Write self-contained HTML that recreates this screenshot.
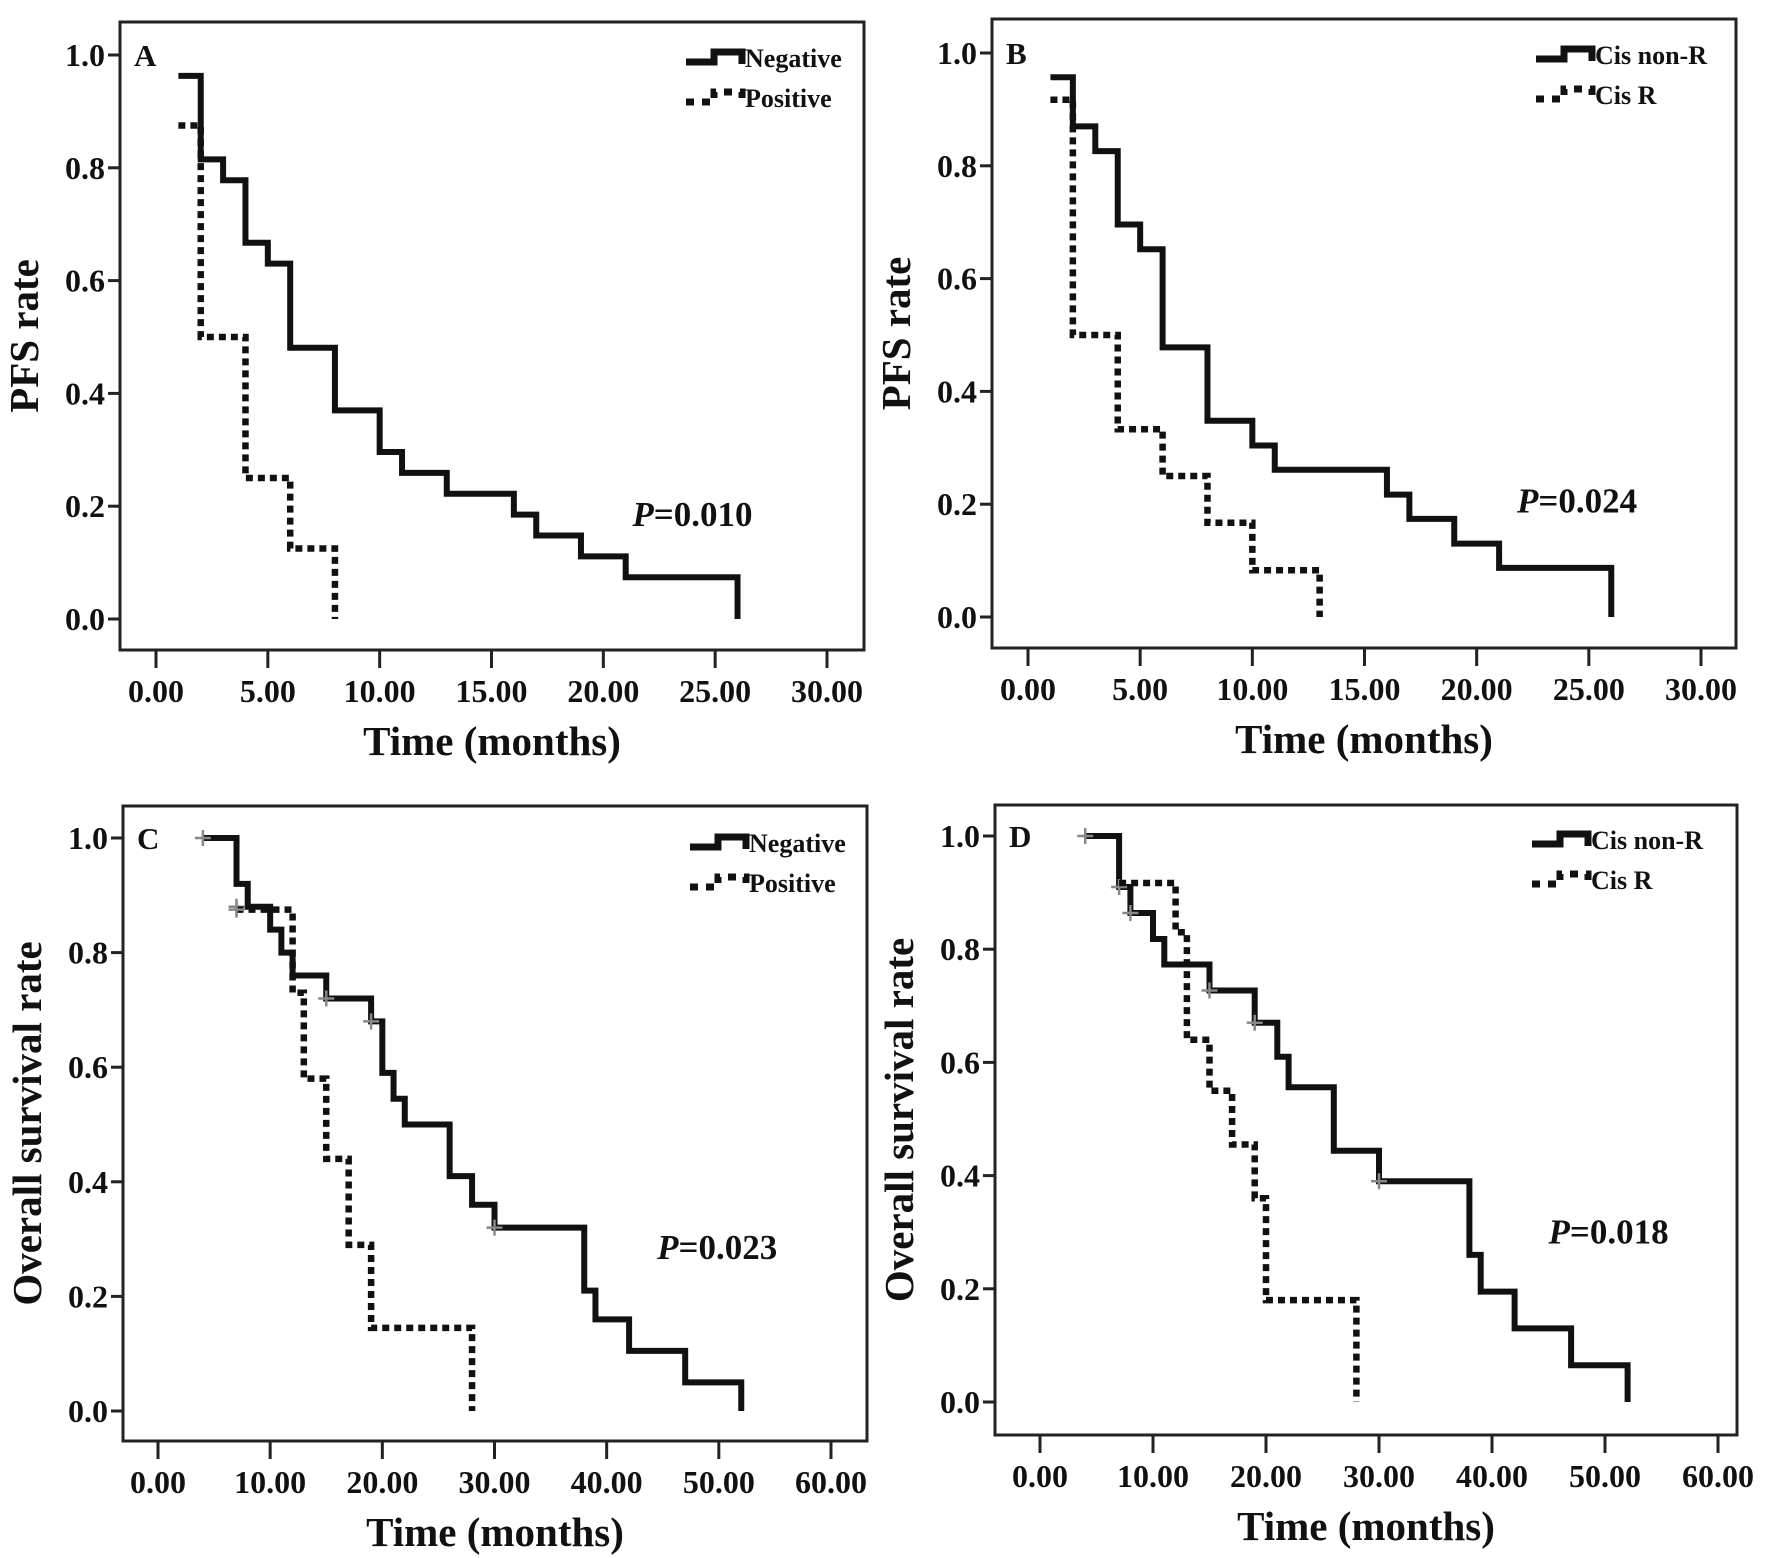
<!DOCTYPE html>
<html><head><meta charset="utf-8"><style>
html,body{margin:0;padding:0;background:#fff}
svg{display:block}
text{font-family:"Liberation Serif",serif;font-weight:bold;fill:#111}
</style></head><body>
<svg id="fig" width="1772" height="1558" viewBox="0 0 1772 1558" xmlns="http://www.w3.org/2000/svg"></svg>
<script>
// ---- data ----
const yTicks = [0.0, 0.2, 0.4, 0.6, 0.8, 1.0];
const xTicksPFS = [0, 5, 10, 15, 20, 25, 30];
const xTicksOS = [0, 10, 20, 30, 40, 50, 60];

const aNegT = [1, 2, 3, 4, 5, 6, 8, 10, 11, 13, 16, 17, 19, 21, 26];
const aNegV = [0.963, 0.815, 0.778, 0.667, 0.63, 0.481, 0.37, 0.296, 0.259, 0.222, 0.185, 0.148, 0.111, 0.074, 0];
const aPosT = [1, 2, 4, 6, 8];
const aPosV = [0.875, 0.5, 0.25, 0.125, 0];

const bNonT = [1, 2, 3, 4, 5, 6, 8, 10, 11, 16, 17, 19, 21, 26];
const bNonV = [0.957, 0.87, 0.826, 0.696, 0.652, 0.478, 0.348, 0.304, 0.261, 0.217, 0.174, 0.13, 0.087, 0];
const bRT = [1, 2, 4, 6, 8, 10, 13];
const bRV = [0.917, 0.5, 0.333, 0.25, 0.167, 0.083, 0];

const cNegT = [4, 7, 8, 10, 11, 12, 15, 19, 20, 21, 22, 26, 28, 30, 38, 39, 42, 47, 52];
const cNegV = [1.0, 0.92, 0.88, 0.84, 0.8, 0.76, 0.72, 0.68, 0.59, 0.545, 0.5, 0.41, 0.36, 0.32, 0.21, 0.16, 0.105, 0.05, 0];
const cNegCens = [[4, 1.0], [7, 0.88], [15, 0.72], [19, 0.68], [30, 0.32]];
const cPosT = [7, 12, 13, 15, 17, 19, 28];
const cPosV = [0.875, 0.73, 0.58, 0.44, 0.29, 0.145, 0];
const cPosCens = [[7, 0.875]];

const dNonT = [4, 7, 8, 10, 11, 15, 19, 21, 22, 26, 30, 38, 39, 42, 47, 52];
const dNonV = [1.0, 0.91, 0.864, 0.818, 0.773, 0.727, 0.67, 0.61, 0.556, 0.444, 0.39, 0.26, 0.195, 0.13, 0.065, 0];
const dNonCens = [[4, 1.0], [7, 0.91], [8, 0.864], [15, 0.727], [19, 0.67], [30, 0.39]];
const dRT = [7, 12, 13, 15, 17, 19, 20, 28];
const dRV = [0.917, 0.83, 0.64, 0.55, 0.455, 0.36, 0.18, 0];

// ---- drawing ----
const NS = "http://www.w3.org/2000/svg";
const svg = document.getElementById('fig');
function mk(tag, attrs, parent) {
  const e = document.createElementNS(NS, tag);
  for (const k in attrs) e.setAttribute(k, attrs[k]);
  (parent || svg).appendChild(e);
  return e;
}

function panel(cfg) {
  const g = mk('g', {});
  
  
  const xs = t => cfg.x0 + (t - cfg.xt[0]) / (cfg.xt[cfg.xt.length - 1] - cfg.xt[0]) * (cfg.x1 - cfg.x0);
  const ys = v => cfg.y0 + v * (cfg.y1 - cfg.y0);
  const fr = mk('rect', {x: cfg.L, y: cfg.T, width: cfg.R - cfg.L, height: cfg.B - cfg.T, fill: 'none', stroke: '#222', 'stroke-width': 3}, g);
  
  
  yTicks.forEach(v => {
    const y = ys(v);
    mk('line', {x1: cfg.L - 12, x2: cfg.L, y1: y, y2: y, stroke: '#222', 'stroke-width': 3}, g);
    const t = mk('text', {x: cfg.L - 15, y: y + 11, 'font-size': 32, 'text-anchor': 'end'}, g);
    t.textContent = v.toFixed(1);
    
    
  });
  cfg.xt.forEach(v => {
    const x = xs(v);
    mk('line', {x1: x, x2: x, y1: cfg.B, y2: cfg.B + 18, stroke: '#222', 'stroke-width': 3}, g);
    const t = mk('text', {x: x, y: cfg.B + 52, 'font-size': 32, 'text-anchor': 'middle'}, g);
    t.textContent = v.toFixed(2);
    
    
  });
  const xt = mk('text', {x: (cfg.L + cfg.R) / 2, y: cfg.B + 105, 'font-size': 41, 'text-anchor': 'middle'}, g);
  xt.textContent = 'Time (months)';
  
  
  const cy = (cfg.T + cfg.B) / 2;
  const yt = mk('text', {x: 0, y: 0, 'font-size': 41, 'text-anchor': 'middle', transform: `translate(${cfg.L - 82},${cy}) rotate(-90)`}, g);
  yt.textContent = cfg.ylabel;
  
  
  const lt = mk('text', {x: cfg.L + 14, y: ys(1) + 11, 'font-size': 31}, g);
  lt.textContent = cfg.letter;
  
  
  const pv = mk('text', {x: xs(cfg.pAt[0]), y: ys(cfg.pAt[1]), 'font-size': 35}, g);
  const ts = mk('tspan', {'font-style': 'italic'}, pv); ts.textContent = 'P';
  const ts2 = mk('tspan', {}, pv); ts2.textContent = '=' + cfg.p;
  
  
  cfg.series.forEach((s, si) => {
    let d = `M${xs(s.t[0])},${ys(s.v[0])}`;
    for (let i = 1; i < s.t.length; i++) d += ` H${xs(s.t[i])} V${ys(s.v[i])}`;
    const p = mk('path', {d: d, fill: 'none', stroke: '#111', 'stroke-width': si === 0 ? 6 : 6.5, 'stroke-dasharray': si === 0 ? 'none' : '7 5'}, g);
    
    
    (s.c || []).forEach(c => {
      const cx = xs(c[0]), cyy = ys(c[1]);
      const m = mk('path', {d: `M${cx - 8},${cyy} H${cx + 8} M${cx},${cyy - 8} V${cyy + 8}`, stroke: '#888', 'stroke-width': 2.5, fill: 'none'}, g);
      
      
    });
    const lx = cfg.legX, ly = cfg.legY + si * 40;
    const lg = mk('path', {d: `M${lx},${ly + 4} H${lx + 28} V${ly - 6} H${lx + 56} V${ly + 6}`, fill: 'none', stroke: '#111', 'stroke-width': 7, 'stroke-dasharray': si === 0 ? 'none' : '8 8'}, g);
    
    
    const ltx = mk('text', {x: lx + 59, y: ly + 9, 'font-size': 26}, g);
    ltx.textContent = s.label;
    
    
  });
}

panel({letter: 'A', ylabel: 'PFS rate', L: 120, R: 864, T: 22, B: 650, x0: 156, x1: 827, y0: 619, y1: 55, xt: xTicksPFS,
  p: '0.010', pAt: [21.3, 0.165], legX: 686, legY: 58,
  series: [{name: 'negative', label: 'Negative', t: aNegT, v: aNegV}, {name: 'positive', label: 'Positive', t: aPosT, v: aPosV}]});
panel({letter: 'B', ylabel: 'PFS rate', L: 992, R: 1736, T: 19, B: 648, x0: 1028, x1: 1701, y0: 617, y1: 53, xt: xTicksPFS,
  p: '0.024', pAt: [21.8, 0.185], legX: 1536, legY: 55,
  series: [{name: 'cis-non-r', label: 'Cis non-R', t: bNonT, v: bNonV}, {name: 'cis-r', label: 'Cis R', t: bRT, v: bRV}]});
panel({letter: 'C', ylabel: 'Overall survival rate', L: 123, R: 867, T: 806, B: 1441, x0: 158, x1: 831, y0: 1411, y1: 838, xt: xTicksOS,
  p: '0.023', pAt: [44.5, 0.265], legX: 690, legY: 843,
  series: [{name: 'negative', label: 'Negative', t: cNegT, v: cNegV, c: cNegCens}, {name: 'positive', label: 'Positive', t: cPosT, v: cPosV, c: cPosCens}]});
panel({letter: 'D', ylabel: 'Overall survival rate', L: 995, R: 1737, T: 805, B: 1435, x0: 1040, x1: 1718, y0: 1402, y1: 836, xt: xTicksOS,
  p: '0.018', pAt: [45, 0.28], legX: 1532, legY: 840,
  series: [{name: 'cis-non-r', label: 'Cis non-R', t: dNonT, v: dNonV, c: dNonCens}, {name: 'cis-r', label: 'Cis R', t: dRT, v: dRV}]});
</script>
</body></html>
